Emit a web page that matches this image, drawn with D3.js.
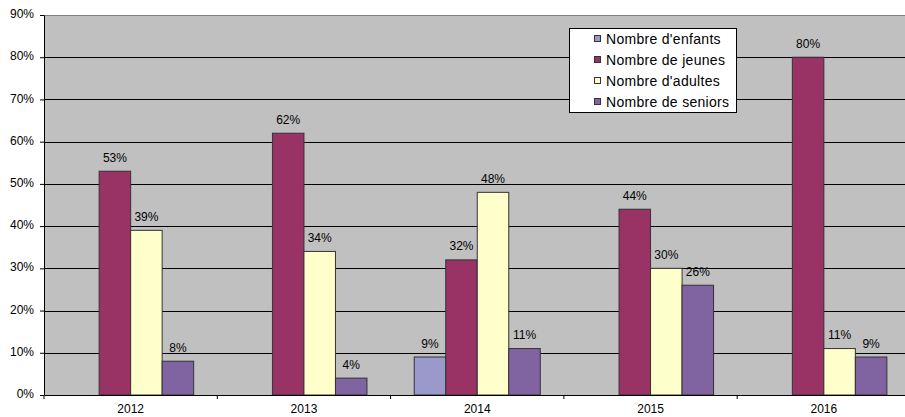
<!DOCTYPE html>
<html><head><meta charset="utf-8">
<script src="https://cdn.jsdelivr.net/npm/d3@7"></script>
<style>body{margin:0;background:#fff}svg{display:block}text{font-family:"Liberation Sans",Arial,sans-serif}</style>
</head><body>
<svg id="c" width="905" height="417"></svg>
<script>
const years = ["2012","2013","2014","2015","2016"];
const seriesNames = ["Nombre d'enfants","Nombre de jeunes","Nombre d'adultes","Nombre de seniors"];
const enfants = [null,null,9,null,null];
const jeunes = [53,62,32,44,80];
const adultes = [39,34,48,30,11];
const seniors = [8,4,11,26,9];
const yTicks = [0,10,20,30,40,50,60,70,80,90];
const colors = ["#9999CC","#993366","#FFFFCC","#8064A2"];
const allSeries = [enfants,jeunes,adultes,seniors];

const svg = d3.select("#c");
const L=44, R=910.5, T=15, B=395;
const x = d3.scaleBand().domain(years).range([L,R]).padding(0);
const xs = d3.scaleBand().domain(seriesNames).range([0,x.bandwidth()]).paddingInner(0).paddingOuter(0.75);
const y = d3.scaleLinear().domain([0,90]).range([B,T]);

svg.append("rect").attr("x",L).attr("y",T).attr("width",R-L).attr("height",B-T).attr("fill","#C0C0C0");
// gridlines
svg.append("g").selectAll("line").data(yTicks.filter(d=>d>0)).join("line")
  .attr("x1",L).attr("x2",R).attr("y1",d=>Math.round(y(d))+0.5).attr("y2",d=>Math.round(y(d))+0.5)
  .attr("stroke",d=>d===90?"#808080":"#000").attr("stroke-width",1);

// bars
years.forEach((yr,i)=>{
  allSeries.forEach((s,j)=>{
    const v=s[i]; if(v==null) return;
    const bx=x(yr)+xs(seriesNames[j]);
    svg.append("rect").attr("x",bx).attr("y",y(v)).attr("width",xs.bandwidth()).attr("height",y(0)-y(v))
      .attr("fill",colors[j]).attr("stroke","#333").attr("stroke-width",1);
    svg.append("text").attr("x",bx+xs.bandwidth()/2).attr("y",y(v)-9.5).attr("text-anchor","middle")
      .attr("font-size","12px").attr("fill","#000").text(v+"%");
  });
});

// y axis
const ya = d3.axisLeft(y).tickValues(yTicks).tickFormat(d=>d+"%").tickSize(4).tickSizeOuter(0);
const gy = svg.append("g").attr("transform",`translate(${L},0)`).call(ya);
gy.select(".domain").attr("stroke","#000");
gy.selectAll(".tick line").attr("stroke","#000");
gy.selectAll(".tick text").attr("font-size","12px").attr("font-family","Liberation Sans, Arial, sans-serif").attr("fill","#000").attr("x",-10).attr("dy","0.22em");

// x axis
const xa = d3.axisBottom(x).tickSize(0).tickSizeOuter(0);
const gx = svg.append("g").attr("transform",`translate(0,${B})`).call(xa);
gx.select(".domain").attr("stroke","#000");
gx.selectAll(".tick text").attr("font-size","12px").attr("font-family","Liberation Sans, Arial, sans-serif").attr("fill","#000").attr("dy","0").attr("y",17.5);
gx.selectAll(".sep").data(years.slice(1)).join("line").attr("class","sep")
  .attr("x1",d=>x(d)).attr("x2",d=>x(d)).attr("y1",0).attr("y2",4).attr("stroke","#000");
gx.append("line").attr("x1",L).attr("x2",L).attr("y1",0).attr("y2",4).attr("stroke","#000");

// legend
const lg = svg.append("g");
lg.append("rect").attr("x",569.5).attr("y",28.5).attr("width",167).attr("height",84).attr("fill","#fff").attr("stroke","#000");
seriesNames.forEach((n,j)=>{
  const cy=38.5+j*21;
  lg.append("rect").attr("x",594.5).attr("y",cy-3).attr("width",6).attr("height",6).attr("fill",colors[j]).attr("stroke","#333");
  lg.append("text").attr("x",606).attr("y",cy+5).attr("font-size","14px").attr("letter-spacing","0.3px").attr("fill","#000").text(n);
});
</script>
</body></html>
